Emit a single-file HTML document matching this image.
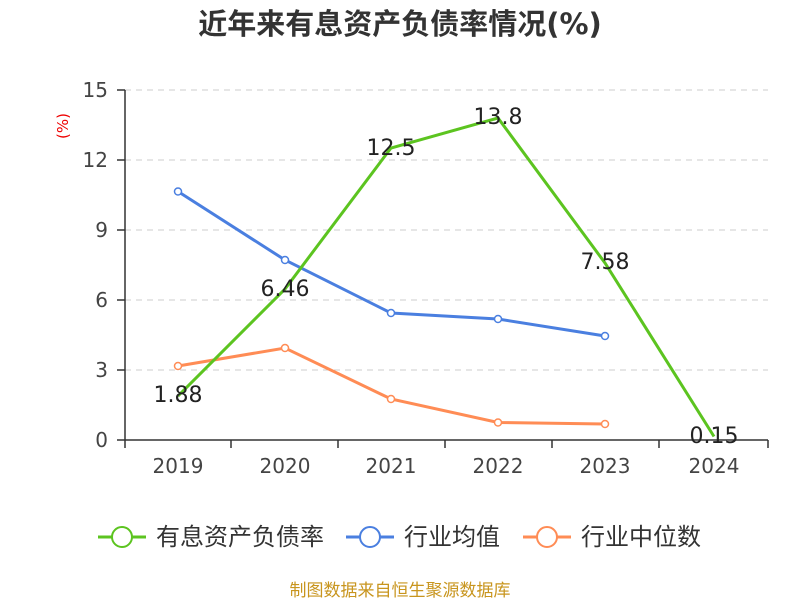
<!DOCTYPE html>
<html><head><meta charset="utf-8"><style>
body{margin:0;background:#fff;}
svg text{font-family:"DejaVu Sans","Noto Sans CJK SC",sans-serif;}
</style></head><body>
<svg width="800" height="600" viewBox="0 0 800 600" xmlns="http://www.w3.org/2000/svg">
<text x="400" y="34" text-anchor="middle" font-size="29" font-weight="bold" fill="#333" font-family="Liberation Sans,Noto Sans CJK SC,sans-serif">近年来有息资产负债率情况(%)</text>
<text x="68" y="126" font-size="15" fill="#e00" transform="rotate(-90 68 126)" text-anchor="middle">(%)</text>
<g stroke="#ccc" stroke-dasharray="6,5" stroke-width="1">
<line x1="125" y1="90" x2="768" y2="90"/><line x1="125" y1="160" x2="768" y2="160"/>
<line x1="125" y1="230" x2="768" y2="230"/><line x1="125" y1="300" x2="768" y2="300"/>
<line x1="125" y1="370" x2="768" y2="370"/>
</g>
<g stroke="#333" stroke-width="1.5">
<line x1="125" y1="90" x2="125" y2="440"/>
<line x1="125" y1="440" x2="768" y2="440"/>
<line x1="117" y1="90" x2="125" y2="90"/><line x1="117" y1="160" x2="125" y2="160"/>
<line x1="117" y1="230" x2="125" y2="230"/><line x1="117" y1="300" x2="125" y2="300"/>
<line x1="117" y1="370" x2="125" y2="370"/><line x1="117" y1="440" x2="125" y2="440"/>
<line x1="125" y1="440" x2="125" y2="448"/><line x1="231" y1="440" x2="231" y2="448"/>
<line x1="338" y1="440" x2="338" y2="448"/><line x1="445" y1="440" x2="445" y2="448"/>
<line x1="552" y1="440" x2="552" y2="448"/><line x1="659" y1="440" x2="659" y2="448"/>
<line x1="768" y1="440" x2="768" y2="448"/>
</g>
<g font-size="20" fill="#444" text-anchor="end">
<text x="108" y="97">15</text><text x="108" y="167">12</text><text x="108" y="237">9</text>
<text x="108" y="307">6</text><text x="108" y="377">3</text><text x="108" y="447">0</text>
</g>
<g font-size="20" fill="#444" text-anchor="middle">
<text x="178" y="473">2019</text><text x="285" y="473">2020</text><text x="391" y="473">2021</text>
<text x="498" y="473">2022</text><text x="605" y="473">2023</text><text x="714" y="473">2024</text>
</g>
<polyline fill="none" stroke="#ff8c55" stroke-width="3" points="178,366 285,348 391,399 498,422.5 605,424"/>
<g fill="#fff" stroke="#ff8c55" stroke-width="1.5">
<circle cx="178" cy="366" r="3.5"/><circle cx="285" cy="348" r="3.5"/><circle cx="391" cy="399" r="3.5"/><circle cx="498" cy="422.5" r="3.5"/><circle cx="605" cy="424" r="3.5"/></g>
<polyline fill="none" stroke="#4a7fe0" stroke-width="3" points="178,191.5 285,260 391,313 498,319 605,336"/>
<g fill="#fff" stroke="#4a7fe0" stroke-width="1.5">
<circle cx="178" cy="191.5" r="3.5"/><circle cx="285" cy="260" r="3.5"/><circle cx="391" cy="313" r="3.5"/><circle cx="498" cy="319" r="3.5"/><circle cx="605" cy="336" r="3.5"/></g>
<polyline fill="none" stroke="#5cc420" stroke-width="3" points="178,396 285,289 391,148 498,118 605,263 714,436.5"/>
<g font-size="22" fill="#222" text-anchor="middle">
<text x="178" y="402">1.88</text><text x="285" y="296">6.46</text><text x="391" y="155">12.5</text>
<text x="498" y="124">13.8</text><text x="605" y="269">7.58</text><text x="714" y="443">0.15</text>
</g>
<line x1="98" y1="537" x2="146" y2="537" stroke="#5cc420" stroke-width="3"/><circle cx="122" cy="537" r="10" fill="#fff" stroke="#5cc420" stroke-width="2"/>
<text x="156" y="545" font-size="24" fill="#333">有息资产负债率</text>
<line x1="346" y1="537" x2="394" y2="537" stroke="#4a7fe0" stroke-width="3"/><circle cx="370" cy="537" r="10" fill="#fff" stroke="#4a7fe0" stroke-width="2"/>
<text x="404" y="545" font-size="24" fill="#333">行业均值</text>
<line x1="523" y1="537" x2="571" y2="537" stroke="#ff8c55" stroke-width="3"/><circle cx="547" cy="537" r="10" fill="#fff" stroke="#ff8c55" stroke-width="2"/>
<text x="581" y="545" font-size="24" fill="#333">行业中位数</text>
<text x="400" y="596" text-anchor="middle" font-size="17" fill="#c8951e">制图数据来自恒生聚源数据库</text>
</svg>
</body></html>
